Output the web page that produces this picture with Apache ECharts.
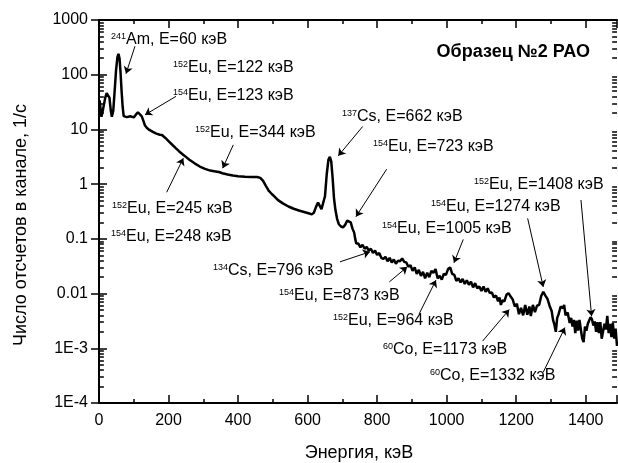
<!DOCTYPE html>
<html>
<head>
<meta charset="utf-8">
<script src="https://cdn.jsdelivr.net/npm/echarts@6/dist/echarts.min.js"></script>
<style>
html, body { margin: 0; padding: 0; background: #fff; }
#main { width: 618px; height: 463px; }
</style>
</head>
<body>
<div id="main"></div>
<script>
// spectrum (keV, counts per second per channel)
var energy = [
    2, 7, 12, 18, 22, 26, 30, 34, 37, 41, 45, 49, 53, 56, 59, 62, 65, 68, 71, 75,
    80, 85, 90, 95, 100, 106, 112, 117, 123, 128, 132, 138, 145, 155, 165, 175, 181, 186, 192, 200,
    210, 220, 230, 242, 250, 260, 275, 290, 305, 320, 335, 345, 355, 370, 385, 400, 420, 440, 455, 464,
    472, 480, 488, 497, 505, 515, 530, 545, 560, 575, 590, 605, 612, 618, 624, 630, 635, 640, 645, 650,
    655, 660, 664, 668, 672, 676, 680, 685, 690, 696, 702, 708, 714, 719, 724, 729, 734, 737, 740, 746,
    752, 758, 764, 770, 776, 782, 788, 794, 800, 806, 812, 818, 824, 830, 836, 842, 848, 854, 860, 866,
    872, 878, 884, 890, 896, 902, 908, 914, 920, 926, 932, 938, 944, 950, 956, 962, 968, 974, 980, 986,
    992, 998, 1004, 1010, 1016, 1022, 1028, 1034, 1040, 1046, 1052, 1058, 1064, 1070, 1076, 1082, 1088, 1094, 1100, 1106,
    1112, 1118, 1124, 1130, 1136, 1142, 1148, 1152, 1156, 1160, 1166, 1172, 1178, 1184, 1190, 1196, 1202, 1208, 1214, 1220,
    1226, 1232, 1238, 1242, 1248, 1254, 1260, 1266, 1272, 1278, 1284, 1290, 1296, 1302, 1306, 1310, 1314, 1318, 1322, 1328,
    1334, 1338, 1342, 1348, 1354, 1358, 1362, 1366, 1370, 1374, 1378, 1382, 1386, 1390, 1394, 1398, 1402, 1406, 1410, 1414,
    1418, 1422, 1426, 1430, 1434, 1438, 1442, 1446, 1450, 1454, 1458, 1462, 1466, 1470, 1474, 1478, 1482, 1486, 1490
];
var counts = [
    34, 17, 24, 38, 46, 49, 38, 22, 17, 22, 50, 120, 210, 240, 200, 110, 50, 26, 17.5, 16.3,
    16.8, 16.2, 17.4, 17.0, 16.6, 18.6, 20.6, 19.6, 17.3, 14.2, 11.9, 10.6, 9.8, 9.0, 8.4, 8.0, 7.9, 7.8, 6.9, 6.1,
    5.3, 4.6, 4.0, 3.45, 3.15, 2.8, 2.4, 2.1, 1.9, 1.77, 1.71, 1.67, 1.58, 1.5, 1.44, 1.4, 1.36, 1.35, 1.35, 1.3,
    1.15, 0.93, 0.76, 0.66, 0.59, 0.51, 0.44, 0.39, 0.355, 0.33, 0.31, 0.29, 0.28, 0.3, 0.38, 0.46, 0.43, 0.35, 0.34, 0.6,
    1.5, 2.8, 3.15, 2.6, 1.3, 0.55, 0.34, 0.23, 0.185, 0.168, 0.162, 0.18, 0.215, 0.228, 0.2, 0.155, 0.13, 0.1, 0.082, 0.082,
    0.070, 0.078, 0.066, 0.071, 0.061, 0.066, 0.055, 0.061, 0.051, 0.055, 0.045, 0.043, 0.047, 0.039, 0.045, 0.037, 0.042, 0.035, 0.040, 0.039,
    0.044, 0.038, 0.037, 0.031, 0.033, 0.026, 0.030, 0.023, 0.027, 0.021, 0.025, 0.019, 0.024, 0.020, 0.026, 0.024, 0.028, 0.019, 0.021, 0.018,
    0.023, 0.022, 0.028, 0.030, 0.023, 0.022, 0.017, 0.019, 0.016, 0.0185, 0.015, 0.0175, 0.0145, 0.0165, 0.0130, 0.0155, 0.0125, 0.0135, 0.0112, 0.0135,
    0.0108, 0.0125, 0.0102, 0.0105, 0.0085, 0.0092, 0.0072, 0.0085, 0.0062, 0.0075, 0.0072, 0.0095, 0.0102, 0.0088, 0.0078, 0.0058, 0.0065, 0.0042, 0.0055, 0.0040,
    0.0062, 0.0041, 0.0058, 0.0039, 0.0062, 0.0046, 0.0060, 0.0062, 0.0090, 0.0108, 0.0092, 0.0080, 0.0060, 0.0048, 0.0033, 0.0027, 0.0020, 0.0036, 0.0042, 0.0058,
    0.0054, 0.0062, 0.0040, 0.0045, 0.0029, 0.0036, 0.0025, 0.0033, 0.0019, 0.0032, 0.0021, 0.0033, 0.0022, 0.0015, 0.0013, 0.0025, 0.0021, 0.0028, 0.0026, 0.0037,
    0.0034, 0.0026, 0.0031, 0.0020, 0.0030, 0.0019, 0.0030, 0.0015, 0.0014, 0.0028, 0.0022, 0.0039, 0.0019, 0.0028, 0.0016, 0.0029, 0.0015, 0.0023, 0.0011
];

var yTickValues = [0.0001, 0.001, 0.01, 0.1, 1, 10, 100, 1000];
var yTickLabels = ['1E-4', '1E-3', '0.01', '0.1', '1', '10', '100', '1000'];

// peak labels: isotope mass number, text
var noteIso = ['241', '152', '154', '152', '152', '154', '137', '154', '152', '154', '154', '134', '154', '152', '60', '60'];
var noteText = [
    'Am, E=60 кэВ', 'Eu, E=122 кэВ', 'Eu, E=123 кэВ', 'Eu, E=344 кэВ', 'Eu, E=245 кэВ', 'Eu, E=248 кэВ',
    'Cs, E=662 кэВ', 'Eu, E=723 кэВ', 'Eu, E=1408 кэВ', 'Eu, E=1274 кэВ', 'Eu, E=1005 кэВ', 'Cs, E=796 кэВ',
    'Eu, E=873 кэВ', 'Eu, E=964 кэВ', 'Co, E=1173 кэВ', 'Co, E=1332 кэВ'
];
// where each label sits on the page (left, middle)
var notePos = [
    [111, 40], [173, 68], [173, 96], [195, 133], [112, 209], [111, 237],
    [342, 117], [373, 147], [474, 185], [431, 207], [382, 229], [213, 271],
    [279, 296], [333, 321], [383, 350], [430, 376]
];
// arrows, [fromE, fromCounts, toE, toCounts]
var arrows = [
    [103.5, 331, 77.7, 104.6],
    [221.5, 40.2, 132.3, 18.5],
    [386.3, 5.23, 355.8, 1.96],
    [194.7, 0.711, 242.5, 2.98],
    [758.4, 11.3, 688.2, 3.29],
    [827.4, 1.875, 739.1, 0.254],
    [1386.3, 0.514, 1417, 0.00385],
    [1233, 0.237, 1277.9, 0.01324],
    [1047.8, 0.0977, 1021, 0.0365],
    [693.1, 0.038, 779.4, 0.058],
    [835, 0.0163, 886.7, 0.0308],
    [921.2, 0.0043, 969.2, 0.0176],
    [1103.5, 0.001355, 1180, 0.0051],
    [1277.9, 0.000366, 1340.2, 0.00239]
];

var X_MAX = 1490;
var TICK_KEV = 14;   // minor tick length along x, in keV (about 5 px)
var FONT = '"Liberation Sans", Arial, sans-serif';

var chart = echarts.init(document.getElementById('main'), null, { renderer: 'canvas' });

var graphics = noteText.map(function (t, i) {
    return {
        type: 'text',
        x: notePos[i][0],
        y: notePos[i][1],
        silent: true,
        style: {
            text: '{s|' + noteIso[i] + '}{m|' + t + '}',
            verticalAlign: 'middle',
            align: 'left',
            rich: {
                s: { fontSize: 9, fontFamily: FONT, fill: '#000', verticalAlign: 'top', lineHeight: 16 },
                m: { fontSize: 16, fontFamily: FONT, fill: '#000', lineHeight: 16 }
            }
        }
    };
});
graphics.push({
    type: 'text', x: 590, y: 52, silent: true,
    style: { text: 'Образец №2 РАО', fontSize: 18, fontWeight: 'bold', fontFamily: FONT,
        fill: '#000', align: 'right', verticalAlign: 'middle' }
});
graphics.push({
    type: 'text', x: 21, y: 225, rotation: Math.PI / 2, silent: true,
    style: { text: 'Число отсчетов в канале, 1/с', fontSize: 18, fontFamily: FONT,
        fill: '#000', align: 'center', verticalAlign: 'middle' }
});
graphics.push({
    type: 'text', x: 359, y: 453, silent: true,
    style: { text: 'Энергия, кэВ', fontSize: 18, fontFamily: FONT,
        fill: '#000', align: 'center', verticalAlign: 'middle' }
});

// arrows plus the 2..9 minor ticks of each decade on the left and right log axes
var marks = arrows.map(function (a) {
    return [{ coord: [a[0], a[1]] }, { coord: [a[2], a[3]] }];
});
yTickValues.slice(0, -1).forEach(function (d) {
    for (var k = 2; k <= 9; k++) {
        var v = d * k;
        var st = { color: '#000', width: 1.5 };
        marks.push([{ coord: [0, v], symbol: 'none', lineStyle: st }, { coord: [TICK_KEV, v], symbol: 'none' }]);
        marks.push([{ coord: [X_MAX - TICK_KEV, v], symbol: 'none', lineStyle: st }, { coord: [X_MAX, v], symbol: 'none' }]);
    }
});

var axisLine = { show: true, lineStyle: { color: '#000', width: 2 } };

var option = {
    animation: false,
    backgroundColor: '#fff',
    grid: { left: 99, right: 1, top: 20, bottom: 60, outerBoundsMode: 'none' },
    xAxis: [{
        type: 'value', min: 0, max: X_MAX, interval: 200,
        axisLine: axisLine,
        axisTick: { inside: true, length: 8, lineStyle: { color: '#000', width: 1.5 } },
        minorTick: { show: true, splitNumber: 2, length: 4, lineStyle: { color: '#000', width: 1.5 } },
        axisLabel: {
            fontSize: 16, fontFamily: FONT, color: '#000', margin: 10, showMaxLabel: false,
            formatter: function (v) { return String(v); }
        },
        splitLine: { show: false }
    }, {
        type: 'value', min: 0, max: X_MAX, interval: 200, position: 'top',
        axisLine: axisLine,
        axisTick: { inside: true, length: 8, lineStyle: { color: '#000', width: 1.5 } },
        minorTick: { show: true, splitNumber: 2, length: 4, lineStyle: { color: '#000', width: 1.5 } },
        axisLabel: { show: false },
        splitLine: { show: false }
    }],
    yAxis: [{
        type: 'log', logBase: 10, min: 0.0001, max: 1000, splitNumber: 7,
        axisLine: axisLine,
        axisTick: { inside: true, length: 8, lineStyle: { color: '#000', width: 1.5 } },
        axisLabel: {
            fontSize: 16, fontFamily: FONT, color: '#000', margin: 11,
            formatter: function (v) {
                for (var i = 0; i < yTickValues.length; i++) {
                    if (Math.abs(Math.log10(v) - Math.log10(yTickValues[i])) < 1e-6) return yTickLabels[i];
                }
                return '';
            }
        },
        splitLine: { show: false }
    }, {
        type: 'log', logBase: 10, min: 0.0001, max: 1000, splitNumber: 7, position: 'right',
        axisLine: { show: true, lineStyle: { color: '#000', width: 1, type: 'dotted' } },
        axisTick: { inside: true, length: 8, lineStyle: { color: '#000', width: 1.5 } },
        axisLabel: { show: false },
        splitLine: { show: false }
    }],
    graphic: graphics,
    series: [{
        type: 'line',
        data: energy.map(function (e, i) { return [e, counts[i]]; }),
        showSymbol: false,
        lineStyle: { color: '#000', width: 2.5 },
        z: 3,
        markLine: {
            silent: true,
            symbol: ['none', 'arrow'],
            symbolSize: 7,
            label: { show: false },
            lineStyle: { color: '#000', width: 1, type: 'solid' },
            data: marks
        }
    }]
};

chart.setOption(option);
</script>
</body>
</html>
